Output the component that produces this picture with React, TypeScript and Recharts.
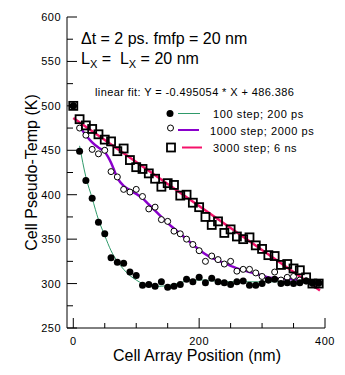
import React from 'react';
import { ComposedChart, Line, Scatter, XAxis, YAxis } from 'recharts';

// cell positions (nm)
const cellX = [0, 10, 20, 30, 40, 50, 60, 70, 80, 90, 100, 110, 120, 130, 140, 150, 160, 170, 180, 190,
  200, 210, 220, 230, 240, 250, 260, 270, 280, 290, 300, 310, 320, 330, 340, 350, 360, 370, 380, 390];

// 100 step; 200 ps
const temp100 = [500, 449, 416, 396, 369, 356, 329, 324, 323, 313, 309, 298, 299, 297, 302, 296, 297, 299, 305, 302,
  307, 301, 306, 302, 301, 299, 302, 303, 298, 298, 300, 304, 305, 300, 301, 300, 301, 303, 301, 301];
// 1000 step; 2000 ps
const temp1000 = [500, 475, 467, 451, 446, 450, 426, 420, 406, 403, 406, 398, 384, 386, 372, 370, 359, 356, 350, 344,
  337, 325, 331, 327, 322, 325, 314, 316, 316, 312, 308, 304, 313, 304, 307, 308, 304, 303, 300, 300];
// 3000 step; 6 ns
const temp3000 = [500, 485, 478, 474, 468, 462, 460, 449, 452, 439, 431, 429, 424, 418, 409, 413, 411, 399, 400, 391,
  386, 375, 366, 370, 357, 361, 353, 350, 352, 343, 339, 332, 331, 321, 322, 317, 315, 307, 300, 300];

// smoothed curves
const fitX100 = [10, 20, 30, 40, 50, 60, 70, 80, 90, 100, 110, 120, 130, 140, 150, 160, 170, 180, 190, 200,
  210, 220, 230, 240, 250, 260, 270, 280, 290, 300, 310, 320, 330, 340, 350, 360, 370, 380, 390];
const fit100 = [455, 420, 396, 372, 354, 337, 325, 316, 309, 304, 300, 298, 297, 297, 298, 299, 301, 303, 304, 304,
  304, 303, 303, 302, 302, 302, 302, 302, 302, 302, 302, 302, 302, 302, 302, 302, 302, 301, 300];
const fitX1000 = [10, 20, 30, 40, 50, 60, 70, 80, 90, 100, 110, 120, 130, 140, 150, 160, 170, 180, 190, 200,
  210, 220, 230, 240, 250, 260, 270, 280, 290, 300, 310, 320, 330, 340, 350, 360, 370, 380];
const fit1000 = [477, 467, 459, 453, 448, 436, 419, 410, 405, 401, 396, 389, 382, 375, 368, 362, 356, 350, 344, 338,
  333, 329, 326, 323, 320, 317, 315, 313, 311, 309, 307, 306, 305, 305, 305, 304, 303, 301];
// linear fit: Y = -0.495054 * X + 486.386
const linFitX = [0, 392];
const linFitY = [486.4, 292.3];

const xTicks = [0, 50, 100, 150, 200, 250, 300, 350, 400];
const xLabels = [0, 200, 400];
const yTicks = [250, 275, 300, 325, 350, 375, 400, 425, 450, 475, 500, 525, 550, 575, 600];

const pts = (xs: number[], ys: number[]) => xs.map((x, i) => ({ x, y: ys[i] }));
const data100 = pts(cellX, temp100);
const data1000 = pts(cellX, temp1000);
const data3000 = pts(cellX, temp3000);
const curve100 = pts(fitX100, fit100);
const curve1000 = pts(fitX1000, fit1000);
const linFit = pts(linFitX, linFitY);

const FONT = '"Liberation Sans", Arial, sans-serif';
const GREEN = '#2f9a6a';
const PURPLE = '#8a00cc';
const PINK = '#f5126a';

const tickText = { fontFamily: FONT, fontSize: 11, letterSpacing: 0.5, fill: '#000' };

const LeftTick = (props: any) => {
  const { x, y, payload } = props;
  const v = payload.value;
  const major = v % 50 === 0;
  const edge = x + 6;
  return (
    <g>
      <line x1={edge} x2={edge + (major ? 10 : 6)} y1={y} y2={y} stroke="#000" />
      {major && <text x={x} y={y} dy={4} textAnchor="end" style={tickText}>{v}</text>}
    </g>
  );
};

const RightTick = (props: any) => {
  const { x, y, payload } = props;
  const major = payload.value % 50 === 0;
  return <line x1={x} x2={x - (major ? 8 : 5)} y1={y} y2={y} stroke="#000" />;
};

const BottomTick = (props: any) => {
  const { x, y, payload } = props;
  const v = payload.value;
  const major = xLabels.includes(v);
  return (
    <g>
      <line x1={x} x2={x} y1={y} y2={y - (major ? 10 : 5)} stroke="#000" />
      {major && <text x={x} y={y} dy={17} textAnchor="middle" style={tickText}>{v}</text>}
    </g>
  );
};

const TopTick = (props: any) => {
  const { x, y, payload } = props;
  const major = xLabels.includes(payload.value);
  return <line x1={x} x2={x} y1={y} y2={y + (major ? 9 : 5)} stroke="#000" />;
};

const filledDot = (p: any) => <circle cx={p.cx} cy={p.cy} r={3.5} fill="#000" />;
const openDot = (p: any) => <circle cx={p.cx} cy={p.cy} r={3} fill="#fff" stroke="#000" strokeWidth={1} />;
const squareDot = (p: any) => (
  <rect x={p.cx - 4} y={p.cy - 4} width={8} height={8} fill="none" stroke="#000" strokeWidth={1.8} />
);

const bigText = { fontFamily: FONT, fontSize: 16, fill: '#000', whiteSpace: 'pre' as const };
const smallText = { fontFamily: FONT, fontSize: 11, fill: '#000', letterSpacing: 0.6, whiteSpace: 'pre' as const };

export default function App() {
  return (
    <div style={{ position: 'absolute', left: 0, top: 0, width: 345, height: 375, background: '#fff' }}>
      <ComposedChart width={345} height={375} margin={{ top: 17, right: 20, bottom: 0, left: 0 }}>
        <XAxis dataKey="x" type="number" domain={[-10, 400]} ticks={xTicks} interval={0}
          height={47} tickSize={0} tickMargin={0} tickLine={false}
          axisLine={{ stroke: '#000' }} tick={BottomTick} />
        <XAxis xAxisId="top" orientation="top" dataKey="x" type="number" domain={[-10, 400]} ticks={xTicks}
          interval={0} height={0} tickSize={0} tickMargin={0} tickLine={false}
          axisLine={{ stroke: '#000' }} tick={TopTick} />
        <YAxis dataKey="y" type="number" domain={[250, 600]} ticks={yTicks} interval={0}
          width={67} tickSize={0} tickMargin={6} tickLine={false}
          axisLine={{ stroke: '#000' }} tick={LeftTick} />
        <YAxis yAxisId="right" orientation="right" type="number" domain={[250, 600]} ticks={yTicks}
          interval={0} width={0} tickSize={0} tickMargin={0} tickLine={false}
          axisLine={{ stroke: '#000' }} tick={RightTick} />

        <Line data={curve100} dataKey="y" type="monotone" stroke={GREEN} strokeWidth={1}
          dot={false} isAnimationActive={false} />
        <Line data={curve1000} dataKey="y" type="monotone" stroke={PURPLE} strokeWidth={2.5}
          dot={false} isAnimationActive={false} />
        <Line data={linFit} dataKey="y" type="linear" stroke={PINK} strokeWidth={2.5}
          dot={false} isAnimationActive={false} />

        <Scatter data={data1000} dataKey="y" shape={openDot} isAnimationActive={false} />
        <Scatter data={data100} dataKey="y" shape={filledDot} isAnimationActive={false} />
        <Scatter data={data3000} dataKey="y" shape={squareDot} isAnimationActive={false} />

        <text x={81} y={44} style={bigText}>Δt = 2 ps. fmfp = 20 nm</text>
        <text x={81} y={63.5} style={bigText}>
          L<tspan fontSize={11} dy={4}>X</tspan><tspan dy={-4}>{' =  L'}</tspan>
          <tspan fontSize={11} dy={4}>X</tspan><tspan dy={-4}>{' = 20 nm'}</tspan>
        </text>
        <text x={95} y={96} style={{ ...smallText, letterSpacing: 0.4 }}>
          linear fit: Y = -0.495054 * X + 486.386
        </text>

        <circle cx={170} cy={113.5} r={3.5} fill="#000" />
        <line x1={178} x2={200} y1={113.5} y2={113.5} stroke={GREEN} strokeWidth={1} />
        <text x={213} y={117.5} style={smallText}>100 step; 200 ps</text>

        <circle cx={170.5} cy={128} r={3} fill="#fff" stroke="#000" />
        <line x1={178} x2={199} y1={130} y2={130} stroke={PURPLE} strokeWidth={2} />
        <text x={210} y={134.5} style={smallText}>1000 step; 2000 ps</text>

        <rect x={167} y={143.5} width={8} height={8} fill="none" stroke="#000" strokeWidth={1.8} />
        <line x1={182} x2={202} y1={147.5} y2={147.5} stroke={PINK} strokeWidth={2} />
        <text x={213} y={151.5} style={smallText}>3000 step; 6 ns</text>

        <text x={197} y={361} textAnchor="middle" style={bigText}>Cell Array Position (nm)</text>
        <text x={31} y={172.5} textAnchor="middle" dominantBaseline="central"
          transform="rotate(-90 31 172.5)" style={bigText}>Cell Pseudo-Temp (K)</text>
      </ComposedChart>
    </div>
  );
}
